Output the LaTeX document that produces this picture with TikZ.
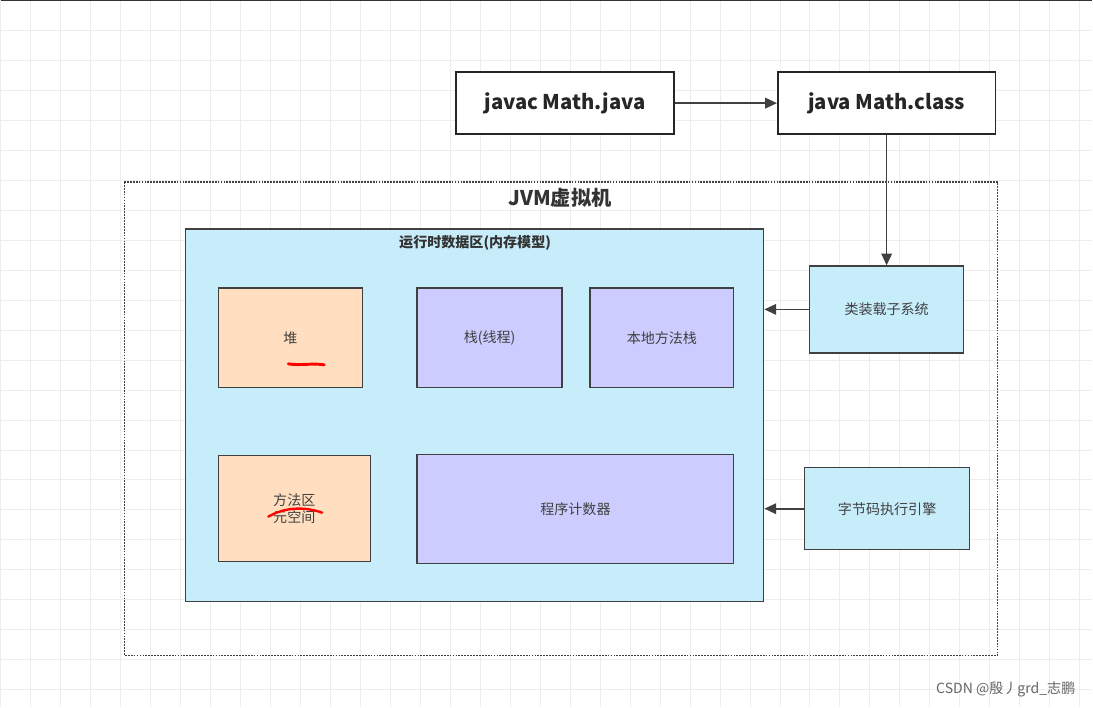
\documentclass[tikz,border=0pt]{standalone}
\usepackage{fontspec}
\setmainfont{Noto Sans CJK SC}
\usetikzlibrary{arrows.meta}
\begin{document}
\begin{tikzpicture}
[x=0.03cm,y=-0.03cm,
 box/.style={rectangle,draw=black!85,line width=1.4pt,fill=white,font=\bfseries\LARGE,text=black!85},
 area/.style={rectangle,draw=black!75,line width=1.1pt,font=\large,text=black!75},
 peach/.style={area,fill=orange!25!white},
 lilac/.style={area,fill=blue!20!white},
 aqua/.style={area,fill=cyan!22!white},
 link/.style={-{Triangle[length=10pt,width=9pt]},line width=1.4pt,draw=black!75}]
% background and grid
\fill[white] (0,0) rectangle (1093,708);
\foreach \gx in {0,30,...,1090} \draw[black!7] (\gx,0) -- (\gx,708);
\foreach \gy in {0,30,...,700} \draw[black!7] (0,\gy) -- (1093,\gy);
\draw[black!80,line width=1pt] (0,0.5) -- (1093,0.5);
% compile step
\node[box,minimum width=218*0.03cm,minimum height=62*0.03cm] (javac) at (565,103) {javac Math.java};
\node[box,minimum width=218*0.03cm,minimum height=62*0.03cm] (java) at (887,103) {java Math.class};
% JVM frame
\draw[densely dotted,line width=1.5pt,black!75] (124,182) rectangle (998,656);
\node[font=\bfseries\LARGE,text=black!80] (jvm) at (560,198) {JVM虚拟机};
\node[aqua,minimum width=579*0.03cm,minimum height=373*0.03cm] (runtime) at (474.5,415.5) {};
\node[font=\bfseries\large,text=black!80] (rtitle) at (475,243) {运行时数据区(内存模型)};
% memory areas
\node[peach,minimum width=144*0.03cm,minimum height=100*0.03cm] (heap) at (290,338) {堆};
\node[lilac,minimum width=145*0.03cm,minimum height=100*0.03cm] (stack) at (489.5,338) {栈(线程)};
\node[lilac,minimum width=144*0.03cm,minimum height=100*0.03cm] (native) at (662,338) {本地方法栈};
\node[peach,minimum width=152*0.03cm,minimum height=106*0.03cm,align=center] (method) at (294,509) {方法区\\元空间};
\node[lilac,minimum width=317*0.03cm,minimum height=109*0.03cm] (pc) at (575.5,509.5) {程序计数器};
% subsystems
\node[aqua,minimum width=154*0.03cm,minimum height=87*0.03cm] (loader) at (887,309.5) {类装载子系统};
\node[aqua,minimum width=165*0.03cm,minimum height=82*0.03cm] (engine) at (887.5,509) {字节码执行引擎};
% red marks
\draw[red,line width=2.5pt,line cap=round] (288,364) .. controls (300,366) and (312,363) .. (324,365);
\draw[red,line width=2pt,line cap=round] (268,517) .. controls (285,507) and (305,507) .. (322,513);
% arrows
\draw[link] (javac) -- (java);
\draw[link] (java) -- (loader);
\draw[link] (loader.west) -- (runtime.east |- loader.west);
\draw[link] (engine.west) -- (runtime.east |- engine.west);
\node[font=\large,text=black!60,anchor=east] (mark) at (1080,690) {CSDN @殷丿grd\_志鹏};
\end{tikzpicture}
\end{document}
